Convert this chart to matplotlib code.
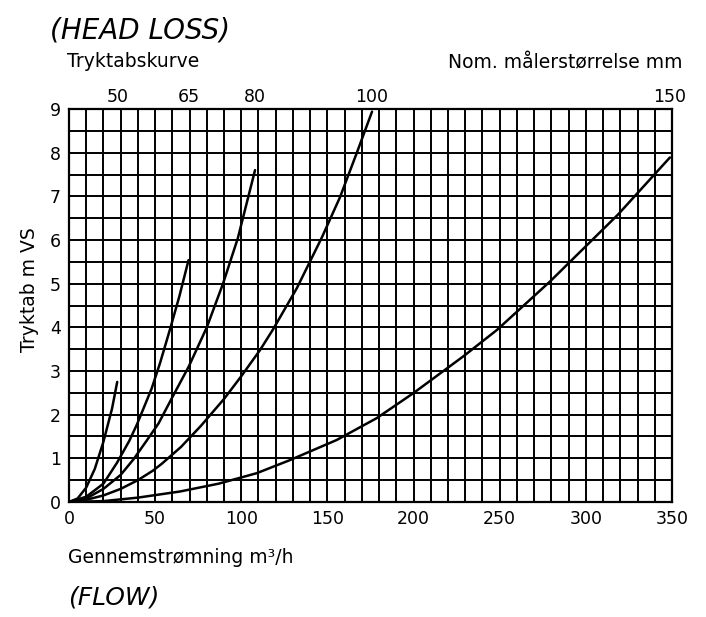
import numpy as np
import matplotlib.pyplot as plt
from matplotlib.ticker import MultipleLocator

q_50 = [0, 5, 10, 15, 20, 25, 28]
h_50 = [0, 0.08, 0.33, 0.76, 1.38, 2.14, 2.75]

q_65 = [0, 10, 20, 27.9, 35, 39.5, 48, 53, 58.6, 64, 69.4]
h_65 = [0, 0.12, 0.42, 0.9, 1.4, 1.78, 2.6, 3.2, 3.95, 4.7, 5.54]

q_80 = [0, 10, 20, 30, 37.5, 45, 52, 60, 69.5, 80, 89.4, 98, 108]
h_80 = [0, 0.08, 0.3, 0.62, 0.98, 1.4, 1.8, 2.4, 3.1, 4.0, 5.0, 6.04, 7.6]

q_100 = [0, 10, 20, 30, 40, 48.8, 54, 65, 76.5, 90, 100, 110.9, 118.4,
         132.3, 146.8, 157.3, 167.1, 175.9]
h_100 = [0, 0.05, 0.15, 0.3, 0.5, 0.72, 0.88, 1.26, 1.74, 2.36, 2.88, 3.48, 3.95,
         4.9, 6.06, 6.98, 8.0, 8.94]

q_150 = [0, 20, 40, 64.4, 86.9, 109, 128.3, 155.4, 178.6, 199.8, 228.7,
         248.4, 279.2, 318.6, 348.8]
h_150 = [0, 0.02, 0.1, 0.24, 0.42, 0.66, 0.96, 1.42, 1.92, 2.49, 3.33,
         3.94, 5.05, 6.58, 7.89]

sizes = ["50", "65", "80", "100", "150"]
curves = [(q_50, h_50), (q_65, h_65), (q_80, h_80), (q_100, h_100), (q_150, h_150)]

plt.rcParams['font.family'] = ['DejaVu Sans']

fig = plt.figure(figsize=(7.06, 6.17), dpi=100)
ax = fig.add_axes([0.0977, 0.1864, 0.8541, 0.6369])

ax.set_xlim(0, 350)
ax.set_ylim(0, 9)
ax.xaxis.set_major_locator(MultipleLocator(50))
ax.xaxis.set_minor_locator(MultipleLocator(10))
ax.yaxis.set_major_locator(MultipleLocator(1))
ax.yaxis.set_minor_locator(MultipleLocator(0.5))
ax.grid(which='both', color='black', linewidth=1.4)
ax.tick_params(which='both', length=0, labelsize=12.5, colors='black')
ax.tick_params(axis='x', pad=6)
ax.tick_params(axis='y', pad=6)
for s in ax.spines.values():
    s.set_linewidth(1.6)
    s.set_color('black')

for (q, h), name in zip(curves, sizes):
    ax.plot(q, h, color='black', linewidth=1.8, solid_capstyle='round')
    ax.text(q[-1], 9.28, name, ha='center', va='center', fontsize=12.5,
            clip_on=False)

ax.set_ylabel("Tryktab m VS", fontsize=13.5)
ax.yaxis.set_label_coords(-0.05, 0.54)

fig.text(0.095, 0.9, "Tryktabskurve", fontsize=13.5, ha='left', va='center')
fig.text(0.967, 0.898, "Nom. målerstørrelse mm", fontsize=13.5,
         ha='right', va='center')
fig.text(0.096, 0.097, "Gennemstrømning m³/h", fontsize=13.5,
         ha='left', va='center')

# handwritten notes
fig.text(0.071, 0.951, "(HEAD LOSS)", fontsize=20, style='italic',
         fontweight='light', ha='left', va='center')
fig.text(0.096, 0.031, "(FLOW)", fontsize=18, style='italic',
         fontweight='light', ha='left', va='center')

fig.savefig("out.png", dpi=100, facecolor='white')
